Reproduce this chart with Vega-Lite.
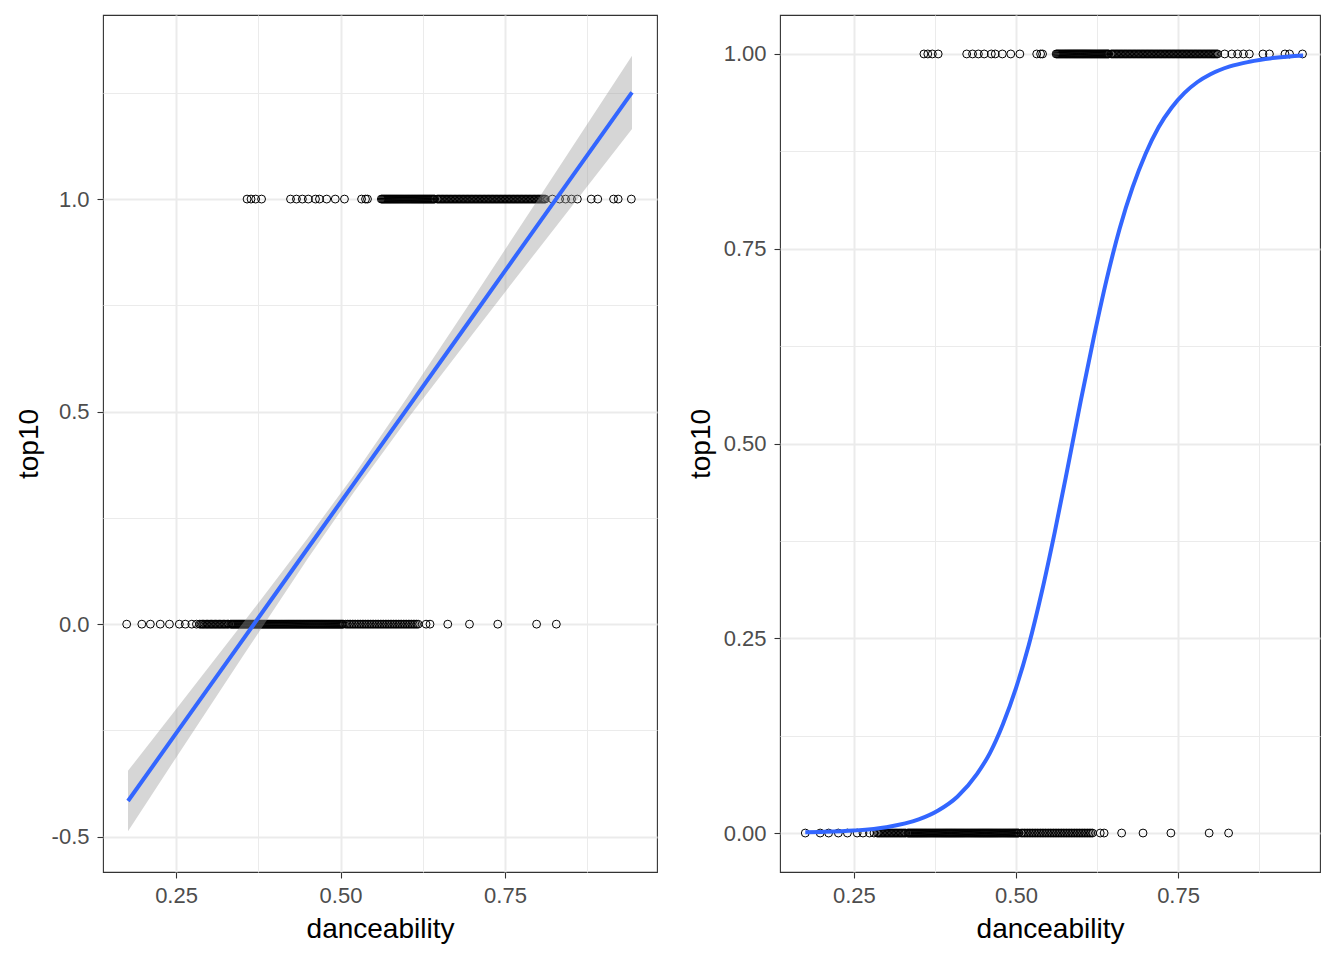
{
  "$schema": "https://vega.github.io/schema/vega-lite/v6.json",
  "background": "white",
  "padding": {"left": 14, "top": 14, "right": 10, "bottom": 10},
  "spacing": 123,
  "bounds": "flush",
  "datasets": {
    "songs": [
      {"d":0.175,"top10":0},{"d":0.198,"top10":0},{"d":0.211,"top10":0},{"d":0.226,"top10":0},{"d":0.240,"top10":0},{"d":0.255,"top10":0},{"d":0.264,"top10":0},{"d":0.274,"top10":0},{"d":0.281,"top10":0},
      {"d":0.286,"top10":0},{"d":0.290,"top10":0},{"d":0.294,"top10":0},{"d":0.298,"top10":0},{"d":0.302,"top10":0},{"d":0.306,"top10":0},{"d":0.310,"top10":0},{"d":0.314,"top10":0},{"d":0.318,"top10":0},{"d":0.322,"top10":0},{"d":0.326,"top10":0},{"d":0.330,"top10":0},
      {"d":0.288,"top10":0},{"d":0.292,"top10":0},{"d":0.296,"top10":0},{"d":0.300,"top10":0},{"d":0.304,"top10":0},{"d":0.308,"top10":0},{"d":0.312,"top10":0},{"d":0.316,"top10":0},{"d":0.320,"top10":0},{"d":0.324,"top10":0},{"d":0.328,"top10":0},
      {"d":0.333,"top10":0},{"d":0.336,"top10":0},{"d":0.339,"top10":0},{"d":0.342,"top10":0},{"d":0.345,"top10":0},{"d":0.348,"top10":0},{"d":0.351,"top10":0},{"d":0.354,"top10":0},{"d":0.357,"top10":0},{"d":0.360,"top10":0},{"d":0.363,"top10":0},{"d":0.366,"top10":0},{"d":0.369,"top10":0},{"d":0.372,"top10":0},{"d":0.375,"top10":0},{"d":0.378,"top10":0},{"d":0.381,"top10":0},{"d":0.384,"top10":0},{"d":0.387,"top10":0},{"d":0.390,"top10":0},{"d":0.393,"top10":0},{"d":0.396,"top10":0},{"d":0.399,"top10":0},{"d":0.402,"top10":0},{"d":0.405,"top10":0},{"d":0.408,"top10":0},{"d":0.411,"top10":0},{"d":0.414,"top10":0},{"d":0.417,"top10":0},{"d":0.420,"top10":0},{"d":0.423,"top10":0},{"d":0.426,"top10":0},{"d":0.429,"top10":0},{"d":0.432,"top10":0},{"d":0.435,"top10":0},{"d":0.438,"top10":0},{"d":0.441,"top10":0},{"d":0.444,"top10":0},{"d":0.447,"top10":0},{"d":0.450,"top10":0},{"d":0.453,"top10":0},{"d":0.456,"top10":0},{"d":0.459,"top10":0},{"d":0.462,"top10":0},{"d":0.465,"top10":0},{"d":0.468,"top10":0},{"d":0.471,"top10":0},{"d":0.474,"top10":0},{"d":0.477,"top10":0},{"d":0.480,"top10":0},{"d":0.483,"top10":0},{"d":0.486,"top10":0},{"d":0.489,"top10":0},{"d":0.492,"top10":0},{"d":0.495,"top10":0},{"d":0.498,"top10":0},{"d":0.501,"top10":0},{"d":0.504,"top10":0},
      {"d":0.3345,"top10":0},{"d":0.3375,"top10":0},{"d":0.3405,"top10":0},{"d":0.3435,"top10":0},{"d":0.3465,"top10":0},{"d":0.3495,"top10":0},{"d":0.3525,"top10":0},{"d":0.3555,"top10":0},{"d":0.3585,"top10":0},{"d":0.3615,"top10":0},{"d":0.3645,"top10":0},{"d":0.3675,"top10":0},{"d":0.3705,"top10":0},{"d":0.3735,"top10":0},{"d":0.3765,"top10":0},{"d":0.3795,"top10":0},{"d":0.3825,"top10":0},{"d":0.3855,"top10":0},{"d":0.3885,"top10":0},{"d":0.3915,"top10":0},{"d":0.3945,"top10":0},{"d":0.3975,"top10":0},{"d":0.4005,"top10":0},{"d":0.4035,"top10":0},{"d":0.4065,"top10":0},{"d":0.4095,"top10":0},{"d":0.4125,"top10":0},{"d":0.4155,"top10":0},{"d":0.4185,"top10":0},{"d":0.4215,"top10":0},{"d":0.4245,"top10":0},{"d":0.4275,"top10":0},{"d":0.4305,"top10":0},{"d":0.4335,"top10":0},{"d":0.4365,"top10":0},{"d":0.4395,"top10":0},{"d":0.4425,"top10":0},{"d":0.4455,"top10":0},{"d":0.4485,"top10":0},{"d":0.4515,"top10":0},{"d":0.4545,"top10":0},{"d":0.4575,"top10":0},{"d":0.4605,"top10":0},{"d":0.4635,"top10":0},{"d":0.4665,"top10":0},{"d":0.4695,"top10":0},{"d":0.4725,"top10":0},{"d":0.4755,"top10":0},{"d":0.4785,"top10":0},{"d":0.4815,"top10":0},{"d":0.4845,"top10":0},{"d":0.4875,"top10":0},{"d":0.4905,"top10":0},{"d":0.4935,"top10":0},{"d":0.4965,"top10":0},{"d":0.4995,"top10":0},{"d":0.5025,"top10":0},
      {"d":0.508,"top10":0},{"d":0.513,"top10":0},{"d":0.518,"top10":0},{"d":0.523,"top10":0},{"d":0.528,"top10":0},{"d":0.533,"top10":0},{"d":0.538,"top10":0},{"d":0.543,"top10":0},{"d":0.548,"top10":0},{"d":0.553,"top10":0},{"d":0.558,"top10":0},{"d":0.563,"top10":0},{"d":0.568,"top10":0},{"d":0.573,"top10":0},{"d":0.578,"top10":0},{"d":0.583,"top10":0},{"d":0.588,"top10":0},{"d":0.593,"top10":0},{"d":0.598,"top10":0},{"d":0.603,"top10":0},{"d":0.608,"top10":0},{"d":0.613,"top10":0},{"d":0.618,"top10":0},
      {"d":0.5105,"top10":0},{"d":0.5155,"top10":0},{"d":0.5205,"top10":0},{"d":0.5255,"top10":0},{"d":0.5305,"top10":0},{"d":0.5355,"top10":0},{"d":0.5405,"top10":0},{"d":0.5455,"top10":0},{"d":0.5505,"top10":0},{"d":0.5555,"top10":0},{"d":0.5605,"top10":0},{"d":0.5655,"top10":0},{"d":0.5705,"top10":0},{"d":0.5755,"top10":0},{"d":0.5805,"top10":0},{"d":0.5855,"top10":0},{"d":0.5905,"top10":0},{"d":0.5955,"top10":0},{"d":0.6005,"top10":0},{"d":0.6055,"top10":0},{"d":0.6105,"top10":0},{"d":0.6155,"top10":0},
      {"d":0.630,"top10":0},{"d":0.636,"top10":0},{"d":0.663,"top10":0},{"d":0.696,"top10":0},{"d":0.739,"top10":0},{"d":0.798,"top10":0},{"d":0.828,"top10":0},
      {"d":0.358,"top10":1},{"d":0.364,"top10":1},{"d":0.371,"top10":1},{"d":0.380,"top10":1},
      {"d":0.424,"top10":1},{"d":0.433,"top10":1},{"d":0.442,"top10":1},{"d":0.451,"top10":1},{"d":0.462,"top10":1},{"d":0.468,"top10":1},{"d":0.479,"top10":1},{"d":0.492,"top10":1},{"d":0.506,"top10":1},
      {"d":0.532,"top10":1},{"d":0.538,"top10":1},{"d":0.541,"top10":1},
      {"d":0.562,"top10":1},{"d":0.565,"top10":1},{"d":0.568,"top10":1},{"d":0.571,"top10":1},{"d":0.574,"top10":1},{"d":0.577,"top10":1},{"d":0.580,"top10":1},{"d":0.583,"top10":1},{"d":0.586,"top10":1},{"d":0.589,"top10":1},{"d":0.592,"top10":1},{"d":0.595,"top10":1},{"d":0.598,"top10":1},{"d":0.601,"top10":1},{"d":0.604,"top10":1},{"d":0.607,"top10":1},{"d":0.610,"top10":1},{"d":0.613,"top10":1},{"d":0.616,"top10":1},{"d":0.619,"top10":1},{"d":0.622,"top10":1},{"d":0.625,"top10":1},{"d":0.628,"top10":1},{"d":0.631,"top10":1},{"d":0.634,"top10":1},{"d":0.637,"top10":1},{"d":0.640,"top10":1},{"d":0.643,"top10":1},
      {"d":0.5635,"top10":1},{"d":0.5665,"top10":1},{"d":0.5695,"top10":1},{"d":0.5725,"top10":1},{"d":0.5755,"top10":1},{"d":0.5785,"top10":1},{"d":0.5815,"top10":1},{"d":0.5845,"top10":1},{"d":0.5875,"top10":1},{"d":0.5905,"top10":1},{"d":0.5935,"top10":1},{"d":0.5965,"top10":1},{"d":0.5995,"top10":1},{"d":0.6025,"top10":1},{"d":0.6055,"top10":1},{"d":0.6085,"top10":1},{"d":0.6115,"top10":1},{"d":0.6145,"top10":1},{"d":0.6175,"top10":1},{"d":0.6205,"top10":1},{"d":0.6235,"top10":1},{"d":0.6265,"top10":1},{"d":0.6295,"top10":1},{"d":0.6325,"top10":1},{"d":0.6355,"top10":1},{"d":0.6385,"top10":1},{"d":0.6415,"top10":1},
      {"d":0.647,"top10":1},{"d":0.651,"top10":1},{"d":0.655,"top10":1},{"d":0.659,"top10":1},{"d":0.663,"top10":1},{"d":0.667,"top10":1},{"d":0.671,"top10":1},{"d":0.675,"top10":1},{"d":0.679,"top10":1},{"d":0.683,"top10":1},{"d":0.687,"top10":1},{"d":0.691,"top10":1},{"d":0.695,"top10":1},{"d":0.699,"top10":1},{"d":0.703,"top10":1},{"d":0.707,"top10":1},{"d":0.711,"top10":1},{"d":0.715,"top10":1},{"d":0.719,"top10":1},{"d":0.723,"top10":1},{"d":0.727,"top10":1},{"d":0.731,"top10":1},{"d":0.735,"top10":1},{"d":0.739,"top10":1},{"d":0.743,"top10":1},{"d":0.747,"top10":1},{"d":0.751,"top10":1},{"d":0.755,"top10":1},{"d":0.759,"top10":1},{"d":0.763,"top10":1},{"d":0.767,"top10":1},{"d":0.771,"top10":1},{"d":0.775,"top10":1},{"d":0.779,"top10":1},{"d":0.783,"top10":1},{"d":0.787,"top10":1},{"d":0.791,"top10":1},{"d":0.795,"top10":1},{"d":0.799,"top10":1},{"d":0.803,"top10":1},{"d":0.807,"top10":1},{"d":0.811,"top10":1},
      {"d":0.649,"top10":1},{"d":0.653,"top10":1},{"d":0.657,"top10":1},{"d":0.661,"top10":1},{"d":0.665,"top10":1},{"d":0.669,"top10":1},{"d":0.673,"top10":1},{"d":0.677,"top10":1},{"d":0.681,"top10":1},{"d":0.685,"top10":1},{"d":0.689,"top10":1},{"d":0.693,"top10":1},{"d":0.697,"top10":1},{"d":0.701,"top10":1},{"d":0.705,"top10":1},{"d":0.709,"top10":1},{"d":0.713,"top10":1},{"d":0.717,"top10":1},{"d":0.721,"top10":1},{"d":0.725,"top10":1},{"d":0.729,"top10":1},{"d":0.733,"top10":1},{"d":0.737,"top10":1},{"d":0.741,"top10":1},{"d":0.745,"top10":1},{"d":0.749,"top10":1},{"d":0.753,"top10":1},{"d":0.757,"top10":1},{"d":0.761,"top10":1},{"d":0.765,"top10":1},{"d":0.769,"top10":1},{"d":0.773,"top10":1},{"d":0.777,"top10":1},{"d":0.781,"top10":1},{"d":0.785,"top10":1},{"d":0.789,"top10":1},{"d":0.793,"top10":1},{"d":0.797,"top10":1},{"d":0.801,"top10":1},{"d":0.805,"top10":1},{"d":0.809,"top10":1},
      {"d":0.822,"top10":1},{"d":0.833,"top10":1},{"d":0.842,"top10":1},{"d":0.851,"top10":1},{"d":0.860,"top10":1},{"d":0.881,"top10":1},{"d":0.891,"top10":1},{"d":0.915,"top10":1},{"d":0.922,"top10":1},{"d":0.942,"top10":1}
    ],
    "lin": [
      {"d":0.177,"top10":-0.416,"lo":-0.487,"hi":-0.345},
      {"d":0.25,"top10":-0.257,"lo":-0.314,"hi":-0.200},
      {"d":0.35,"top10":-0.040,"lo":-0.079,"hi":-0.001},
      {"d":0.45,"top10":0.178,"lo":0.154,"hi":0.202},
      {"d":0.52,"top10":0.330,"lo":0.310,"hi":0.350},
      {"d":0.60,"top10":0.504,"lo":0.479,"hi":0.530},
      {"d":0.70,"top10":0.722,"lo":0.681,"hi":0.763},
      {"d":0.80,"top10":0.940,"lo":0.881,"hi":0.999},
      {"d":0.943,"top10":1.251,"lo":1.165,"hi":1.337}
    ],
    "logit": [
      {"d":0.175,"top10":0.0009},{"d":0.20,"top10":0.0014},{"d":0.25,"top10":0.0032},{"d":0.30,"top10":0.0075},{"d":0.35,"top10":0.0175},{"d":0.38,"top10":0.029},{"d":0.41,"top10":0.047},{"d":0.44,"top10":0.076},{"d":0.46,"top10":0.103},{"d":0.48,"top10":0.140},{"d":0.50,"top10":0.186},{"d":0.52,"top10":0.242},{"d":0.54,"top10":0.310},{"d":0.56,"top10":0.387},{"d":0.58,"top10":0.470},{"d":0.60,"top10":0.555},{"d":0.62,"top10":0.636},{"d":0.64,"top10":0.711},{"d":0.66,"top10":0.776},{"d":0.68,"top10":0.829},{"d":0.70,"top10":0.872},{"d":0.72,"top10":0.906},{"d":0.74,"top10":0.931},{"d":0.76,"top10":0.950},{"d":0.78,"top10":0.964},{"d":0.80,"top10":0.974},{"d":0.83,"top10":0.984},{"d":0.86,"top10":0.990},{"d":0.90,"top10":0.995},{"d":0.943,"top10":0.998}
    ]
  },
  "hconcat": [
    {
      "width": 554,
      "height": 857,
      "layer": [
        {
          "data": {"name": "songs"},
          "mark": {"type": "point", "shape": "circle", "filled": false, "color": "black", "size": 62, "strokeWidth": 1, "opacity": 1},
          "encoding": {
            "x": {"field": "d", "type": "quantitative", "title": "danceability",
              "scale": {"domain": [0.139, 0.981], "nice": false, "zero": false},
              "axis": {"values": [0.25, 0.375, 0.5, 0.625, 0.75, 0.875], "format": ".2f",
                "labelExpr": "indexof([0.375,0.625,0.875], datum.value) >= 0 ? '' : datum.label",
                "gridWidth": {"condition": {"test": "indexof([0.375,0.625,0.875], datum.value) >= 0", "value": 1}, "value": 2},
                "tickOpacity": {"condition": {"test": "indexof([0.375,0.625,0.875], datum.value) >= 0", "value": 0}, "value": 1}}},
            "y": {"field": "top10", "type": "quantitative", "title": "top10",
              "scale": {"domain": [-0.583, 1.433], "nice": false, "zero": false},
              "axis": {"values": [-0.5, -0.25, 0, 0.25, 0.5, 0.75, 1, 1.25], "format": ".1f",
                "labelExpr": "indexof([-0.25,0.25,0.75,1.25], datum.value) >= 0 ? '' : replace(datum.label, '\u2212', '-')",
                "gridWidth": {"condition": {"test": "indexof([-0.25,0.25,0.75,1.25], datum.value) >= 0", "value": 1}, "value": 2},
                "tickOpacity": {"condition": {"test": "indexof([-0.25,0.25,0.75,1.25], datum.value) >= 0", "value": 0}, "value": 1}}}
          }
        },
        {
          "data": {"name": "lin"},
          "mark": {"type": "area", "color": "#999999", "opacity": 0.4},
          "encoding": {
            "x": {"field": "d", "type": "quantitative", "title": "danceability"},
            "y": {"field": "lo", "type": "quantitative", "title": "top10"},
            "y2": {"field": "hi"}
          }
        },
        {
          "data": {"name": "lin"},
          "mark": {"type": "line", "color": "#3366FF", "strokeWidth": 4},
          "encoding": {
            "x": {"field": "d", "type": "quantitative", "title": "danceability"},
            "y": {"field": "top10", "type": "quantitative", "title": "top10"}
          }
        }
      ]
    },
    {
      "width": 540,
      "height": 857,
      "layer": [
        {
          "data": {"name": "songs"},
          "mark": {"type": "point", "shape": "circle", "filled": false, "color": "black", "size": 62, "strokeWidth": 1, "opacity": 1},
          "encoding": {
            "x": {"field": "d", "type": "quantitative", "title": "danceability",
              "scale": {"domain": [0.136, 0.969], "nice": false, "zero": false},
              "axis": {"values": [0.25, 0.375, 0.5, 0.625, 0.75, 0.875], "format": ".2f",
                "labelExpr": "indexof([0.375,0.625,0.875], datum.value) >= 0 ? '' : datum.label",
                "gridWidth": {"condition": {"test": "indexof([0.375,0.625,0.875], datum.value) >= 0", "value": 1}, "value": 2},
                "tickOpacity": {"condition": {"test": "indexof([0.375,0.625,0.875], datum.value) >= 0", "value": 0}, "value": 1}}},
            "y": {"field": "top10", "type": "quantitative", "title": "top10",
              "scale": {"domain": [-0.05, 1.05], "nice": false, "zero": false},
              "axis": {"values": [0, 0.125, 0.25, 0.375, 0.5, 0.625, 0.75, 0.875, 1], "format": ".2f",
                "labelExpr": "indexof([0.125,0.375,0.625,0.875], datum.value) >= 0 ? '' : datum.label",
                "gridWidth": {"condition": {"test": "indexof([0.125,0.375,0.625,0.875], datum.value) >= 0", "value": 1}, "value": 2},
                "tickOpacity": {"condition": {"test": "indexof([0.125,0.375,0.625,0.875], datum.value) >= 0", "value": 0}, "value": 1}}}
          }
        },
        {
          "data": {"name": "logit"},
          "mark": {"type": "line", "color": "#3366FF", "strokeWidth": 4, "interpolate": "monotone"},
          "encoding": {
            "x": {"field": "d", "type": "quantitative", "title": "danceability"},
            "y": {"field": "top10", "type": "quantitative", "title": "top10"}
          }
        }
      ]
    }
  ],
  "config": {
    "font": "Liberation Sans",
    "view": {"stroke": "#333333", "strokeWidth": 1.1},
    "axis": {
      "domain": false,
      "grid": true,
      "gridColor": "#EBEBEB",
      "tickColor": "#333333",
      "tickSize": 6,
      "tickWidth": 1.1,
      "labelColor": "#4D4D4D",
      "labelFontSize": 22,
      "labelFont": "Liberation Sans",
      "titleFont": "Liberation Sans",
      "titleFontSize": 28,
      "titleFontWeight": "normal",
      "titleColor": "#000000"
    },
    "axisX": {"labelPadding": 7, "titlePadding": 9},
    "axisY": {"labelPadding": 8, "titlePadding": 8}
  }
}
